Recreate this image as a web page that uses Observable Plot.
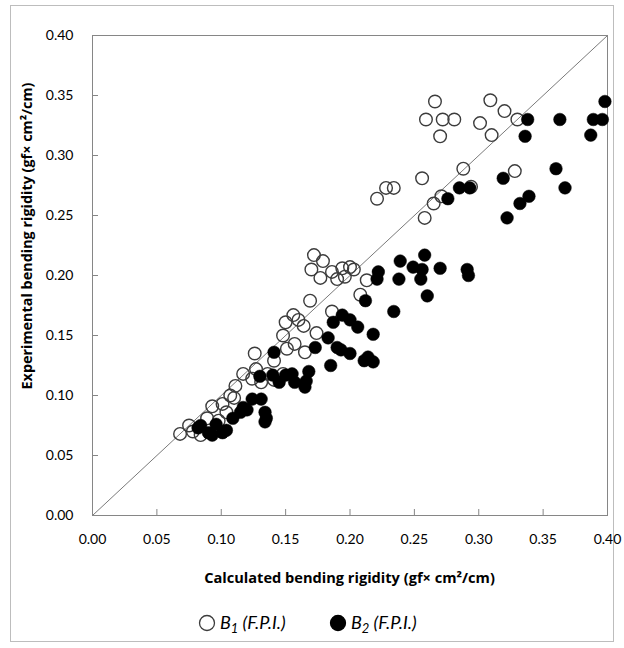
<!DOCTYPE html>
<html><head><meta charset="utf-8">
<script src="https://cdn.jsdelivr.net/npm/d3@7"></script>
<script src="https://cdn.jsdelivr.net/npm/@observablehq/plot@0.6"></script>
<style>
body{margin:0;background:#fff;}
#wrap{position:relative;width:624px;height:648px;}
#border{position:absolute;left:10px;top:5px;width:604px;height:637px;border:1px solid #bdbdbd;box-sizing:border-box;}
#wrap svg{position:absolute;left:0;top:0;}
</style></head><body><div id="wrap"><div id="border"></div></div>
<script>
const xTicks = [0, 0.05, 0.10, 0.15, 0.20, 0.25, 0.30, 0.35, 0.40];
const yTicks = [0, 0.05, 0.10, 0.15, 0.20, 0.25, 0.30, 0.35, 0.40];
const refLine = [0, 0.4];

const b1X = [0.266,0.259,0.272,0.281,0.270,0.309,0.320,0.301,0.310,0.330,0.288,0.328,0.256,0.271,0.265,0.258,0.294,0.221,0.228,0.234,
  0.172,0.179,0.170,0.177,0.186,0.194,0.200,0.203,0.190,0.196,0.213,0.169,0.208,0.186,0.150,0.156,0.160,0.164,0.174,0.148,
  0.151,0.126,0.141,0.117,0.127,0.111,0.124,0.136,0.148,0.131,0.141,0.157,0.165,
  0.068,0.075,0.078,0.084,0.089,0.093,0.101,0.107,0.098,0.104,0.110];
const b1Y = [0.345,0.330,0.330,0.330,0.316,0.346,0.337,0.327,0.317,0.330,0.289,0.287,0.281,0.266,0.260,0.248,0.274,0.264,0.273,0.273,
  0.217,0.212,0.205,0.198,0.203,0.206,0.207,0.205,0.197,0.199,0.196,0.179,0.184,0.170,0.161,0.167,0.163,0.158,0.152,0.150,
  0.139,0.135,0.129,0.118,0.122,0.108,0.114,0.118,0.118,0.111,0.113,0.143,0.136,
  0.068,0.075,0.070,0.067,0.081,0.091,0.093,0.100,0.079,0.086,0.098];

const b2X = [0.398,0.338,0.363,0.389,0.396,0.336,0.387,0.360,0.367,0.319,0.285,0.293,0.276,0.339,0.332,0.322,
  0.258,0.249,0.239,0.256,0.270,0.291,0.292,0.255,0.222,0.221,0.238,0.260,0.212,0.234,0.194,0.200,0.187,0.206,0.218,0.183,
  0.141,0.214,0.218,0.211,0.190,0.193,0.173,0.185,0.200,0.168,0.166,0.165,
  0.130,0.140,0.145,0.150,0.155,0.157,0.124,0.131,
  0.082,0.084,0.090,0.093,0.096,0.101,0.104,0.109,0.115,0.120,0.117,0.134,0.135,0.134];
const b2Y = [0.345,0.330,0.330,0.330,0.330,0.316,0.317,0.289,0.273,0.281,0.273,0.273,0.264,0.266,0.260,0.248,
  0.217,0.207,0.212,0.205,0.206,0.205,0.200,0.197,0.203,0.197,0.197,0.183,0.179,0.170,0.167,0.163,0.161,0.157,0.151,0.148,
  0.136,0.132,0.128,0.129,0.140,0.138,0.140,0.125,0.135,0.120,0.112,0.107,
  0.116,0.117,0.111,0.117,0.118,0.111,0.097,0.097,
  0.073,0.075,0.069,0.067,0.076,0.069,0.071,0.081,0.086,0.088,0.090,0.086,0.081,0.078];

const xTitle = "Calculated bending rigidity (gf\u00d7 cm\u00b2/cm)";
const yTitle = "Experimental bending rigidity (gf\u00d7 cm\u00b2/cm)";
const legendItems = [{sub: "1", fill: "none"}, {sub: "2", fill: "#000"}];

const b1 = b1X.map((x, i) => ({x, y: b1Y[i]}));
const b2 = b2X.map((x, i) => ({x, y: b2Y[i]}));

const font = "Lato, 'Open Sans', sans-serif";
const titleFont = "'Open Sans', Lato, sans-serif";
const chart = Plot.plot({
  width: 624, height: 648,
  marginTop: 35, marginBottom: 133, marginLeft: 92, marginRight: 17,
  style: {fontFamily: font, fontSize: "14px", background: "transparent", color: "#000"},
  x: {domain: [0, 0.4]},
  y: {domain: [0, 0.4]},
  marks: [
    Plot.line(refLine, {x: d => d, y: d => d, stroke: "#7a7a7a", strokeWidth: 1}),
    Plot.axisX(xTicks, {tickSize: -6, tickPadding: 25, tickFormat: d3.format(".2f"), stroke: "#868686", label: null}),
    Plot.axisY(yTicks, {tickSize: -6, tickPadding: 25, tickFormat: d3.format(".2f"), stroke: "#868686", label: null}),
    Plot.frame({stroke: "#868686"}),
    Plot.dot(b1, {x: "x", y: "y", r: 6.3, stroke: "#3c3c3c", strokeWidth: 1.4, fill: "none"}),
    Plot.dot(b2, {x: "x", y: "y", r: 6.3, fill: "#000", stroke: "#000", strokeWidth: 0.5})
  ]
});
document.getElementById("wrap").appendChild(chart);

const svg = d3.select(chart);
svg.append("text")
  .attr("x", 349.5).attr("y", 579)
  .attr("text-anchor", "middle").attr("dominant-baseline", "middle")
  .style("font-family", titleFont).style("font-size", "14.6px").style("font-weight", "bold")
  .attr("fill", "#000").text(xTitle);
svg.append("text")
  .attr("transform", "translate(28,236) rotate(-90)")
  .attr("text-anchor", "middle").attr("dominant-baseline", "middle")
  .style("font-family", titleFont).style("font-size", "14.4px").style("font-weight", "bold")
  .attr("fill", "#000").text(yTitle);

const lx = [207, 338];
legendItems.forEach((it, i) => {
  const g = svg.append("g");
  g.append("circle").attr("cx", lx[i]).attr("cy", 623).attr("r", 7.5)
    .attr("fill", it.fill).attr("stroke", it.fill === "none" ? "#3c3c3c" : "#000").attr("stroke-width", 1.3);
  const t = g.append("text").attr("x", lx[i] + 13).attr("y", 629)
    .attr("text-anchor", "start")
    .style("font-family", font).style("font-size", "18px").style("font-style", "italic").attr("fill", "#000");
  t.append("tspan").text("B");
  t.append("tspan").attr("dy", 4).style("font-size", "13px").text(it.sub);
  t.append("tspan").attr("dy", -4).text(" (F.P.I.)");
});
</script></body></html>
